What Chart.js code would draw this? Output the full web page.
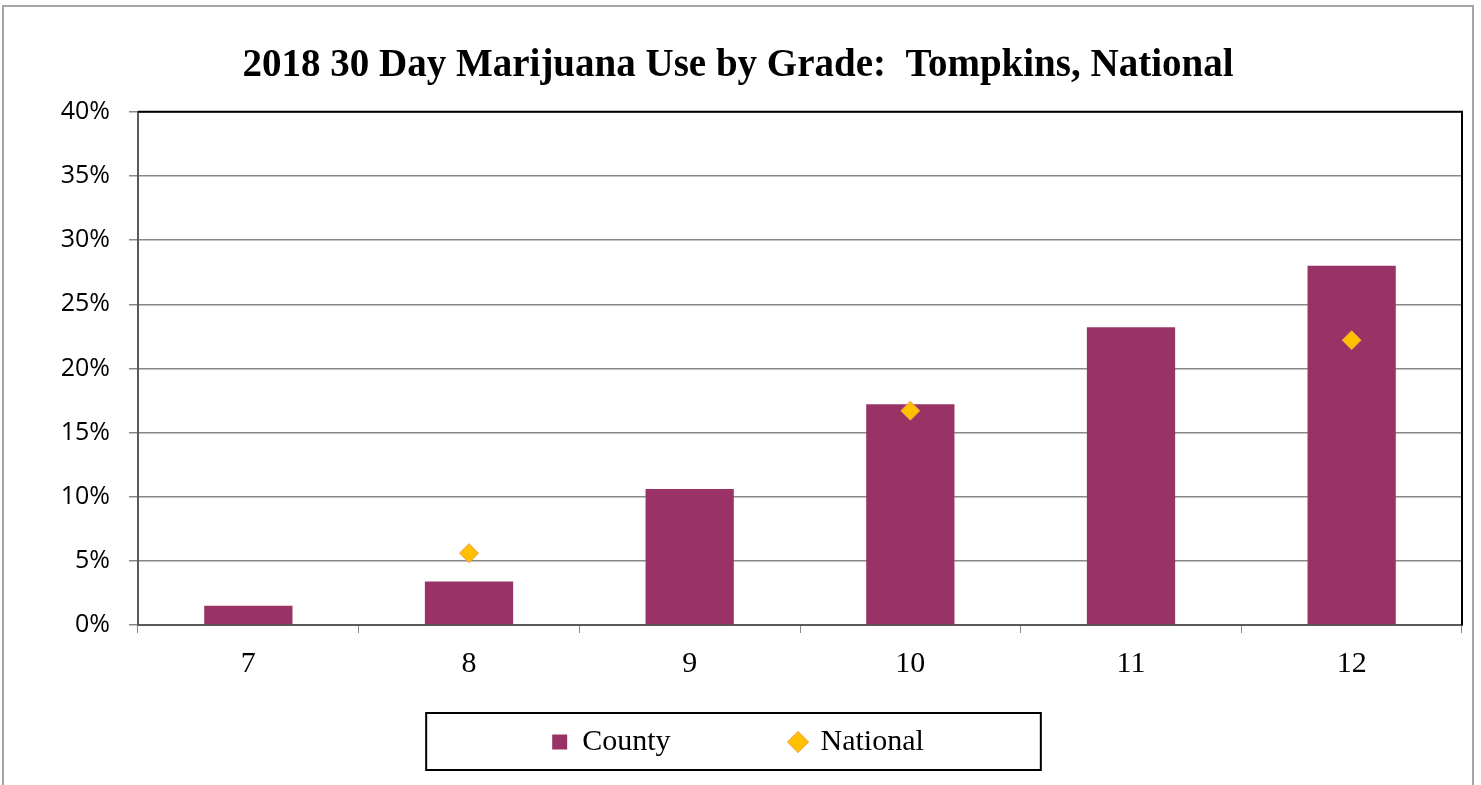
<!DOCTYPE html>
<html>
<head>
<meta charset="utf-8">
<script src="https://cdn.jsdelivr.net/npm/chart.js@4.4.1/dist/chart.umd.min.js"></script>
<style>
  html, body { margin: 0; padding: 0; background: #fff; }
  #wrap { position: relative; width: 1481px; height: 785px; }
</style>
</head>
<body>
<div id="wrap"><canvas id="useChart"></canvas></div>
<script>
// grades on the x axis
const grades = ["7", "8", "9", "10", "11", "12"];
// percent of students
const countyPct = [1.5, 3.4, 10.6, 17.2, 23.2, 28.0];
const nationalPct = [null, 5.6, null, 16.7, null, 22.2];
const yTickValues = [0, 5, 10, 15, 20, 25, 30, 35, 40];

const serif = "'Liberation Serif', 'DejaVu Serif', serif";

// outer frame, plot frame (top + right) and the box round the legend
const framePlugin = {
  id: "frames",
  beforeDraw(chart) {
    const ctx = chart.ctx;
    ctx.save();
    ctx.strokeStyle = "#a6a6a6";
    ctx.lineWidth = 2;
    ctx.beginPath();
    ctx.moveTo(3, 800);
    ctx.lineTo(3, 6);
    ctx.lineTo(1473, 6);
    ctx.lineTo(1473, 800);
    ctx.stroke();
    ctx.restore();
  },
  afterDraw(chart) {
    const ctx = chart.ctx;
    const a = chart.chartArea;
    ctx.save();
    ctx.strokeStyle = "#000";
    ctx.lineWidth = 2;
    ctx.beginPath();
    ctx.moveTo(a.left, a.top);
    ctx.lineTo(a.right, a.top);
    ctx.lineTo(a.right, a.bottom);
    ctx.stroke();

    const boxes = chart.legend.legendHitBoxes;
    if (boxes && boxes.length) {
      const l = Math.min(...boxes.map(b => b.left));
      const r = Math.max(...boxes.map(b => b.left + b.width));
      const cy = boxes[0].top + boxes[0].height / 2;
      ctx.strokeRect(l - 126, cy - 29, (r - l) + 126 + 117, 57);
    }
    ctx.restore();
  }
};

const chart = new Chart(document.getElementById("useChart"), {
  data: {
    labels: grades,
    datasets: [
      {
        type: "line",
        label: "National",
        data: nationalPct,
        showLine: false,
        pointStyle: "rectRot",
        pointRadius: 9.5,
        pointHoverRadius: 9.5,
        pointBackgroundColor: "#ffc000",
        pointBorderColor: "#f79646",
        pointBorderWidth: 1,
        backgroundColor: "#ffc000",
        borderColor: "#f79646",
        borderWidth: 1,
        order: 0
      },
      {
        type: "bar",
        label: "County",
        data: countyPct,
        backgroundColor: "#993366",
        borderColor: "#993366",
        borderWidth: 0,
        pointStyle: "rect",
        categoryPercentage: 1.0,
        barPercentage: 0.4,
        order: 1
      }
    ]
  },
  options: {
    responsive: true,
    maintainAspectRatio: false,
    animation: false,
    layout: { padding: { left: 14, right: 19, top: 0, bottom: 18 } },
    plugins: {
      title: {
        display: true,
        text: "2018 30 Day Marijuana Use by Grade:  Tompkins, National",
        color: "#000",
        font: { family: serif, size: 39, weight: "bold" },
        padding: { top: 43, bottom: 22 }
      },
      legend: {
        position: "bottom",
        reverse: true,
        // empty title with negative padding pulls the row up so the
        // wide item gap (labels.padding) does not push it off the page
        title: {
          display: true,
          text: "",
          font: { size: 10, lineHeight: 1 },
          padding: { top: -84, bottom: 0 }
        },
        labels: {
          color: "#000",
          font: { family: serif, size: 30 },
          usePointStyle: true,
          boxWidth: 15,
          boxHeight: 15,
          padding: 120
        }
      },
      tooltip: { enabled: false }
    },
    scales: {
      x: {
        offset: true,
        afterFit: s => { s.height = 56; },
        grid: {
          offset: true,
          drawOnChartArea: false,
          drawTicks: true,
          tickLength: 8,
          color: "#888"
        },
        border: { color: "#595959", width: 2 },
        ticks: {
          color: "#000",
          font: { family: serif, size: 30 },
          padding: 13
        }
      },
      y: {
        min: 0,
        max: 40,
        afterFit: s => { s.width = 124; },
        afterBuildTicks: s => { s.ticks = yTickValues.map(v => ({ value: v })); },
        grid: { color: "#888", lineWidth: 1.5, tickLength: 9 },
        border: { color: "#595959", width: 2 },
        ticks: {
          color: "#000",
          font: { family: "'Open Sans', 'Liberation Sans', sans-serif", size: 25 },
          padding: 19,
          callback: v => v + "%"
        }
      }
    }
  },
  plugins: [framePlugin]
});
</script>
</body>
</html>
